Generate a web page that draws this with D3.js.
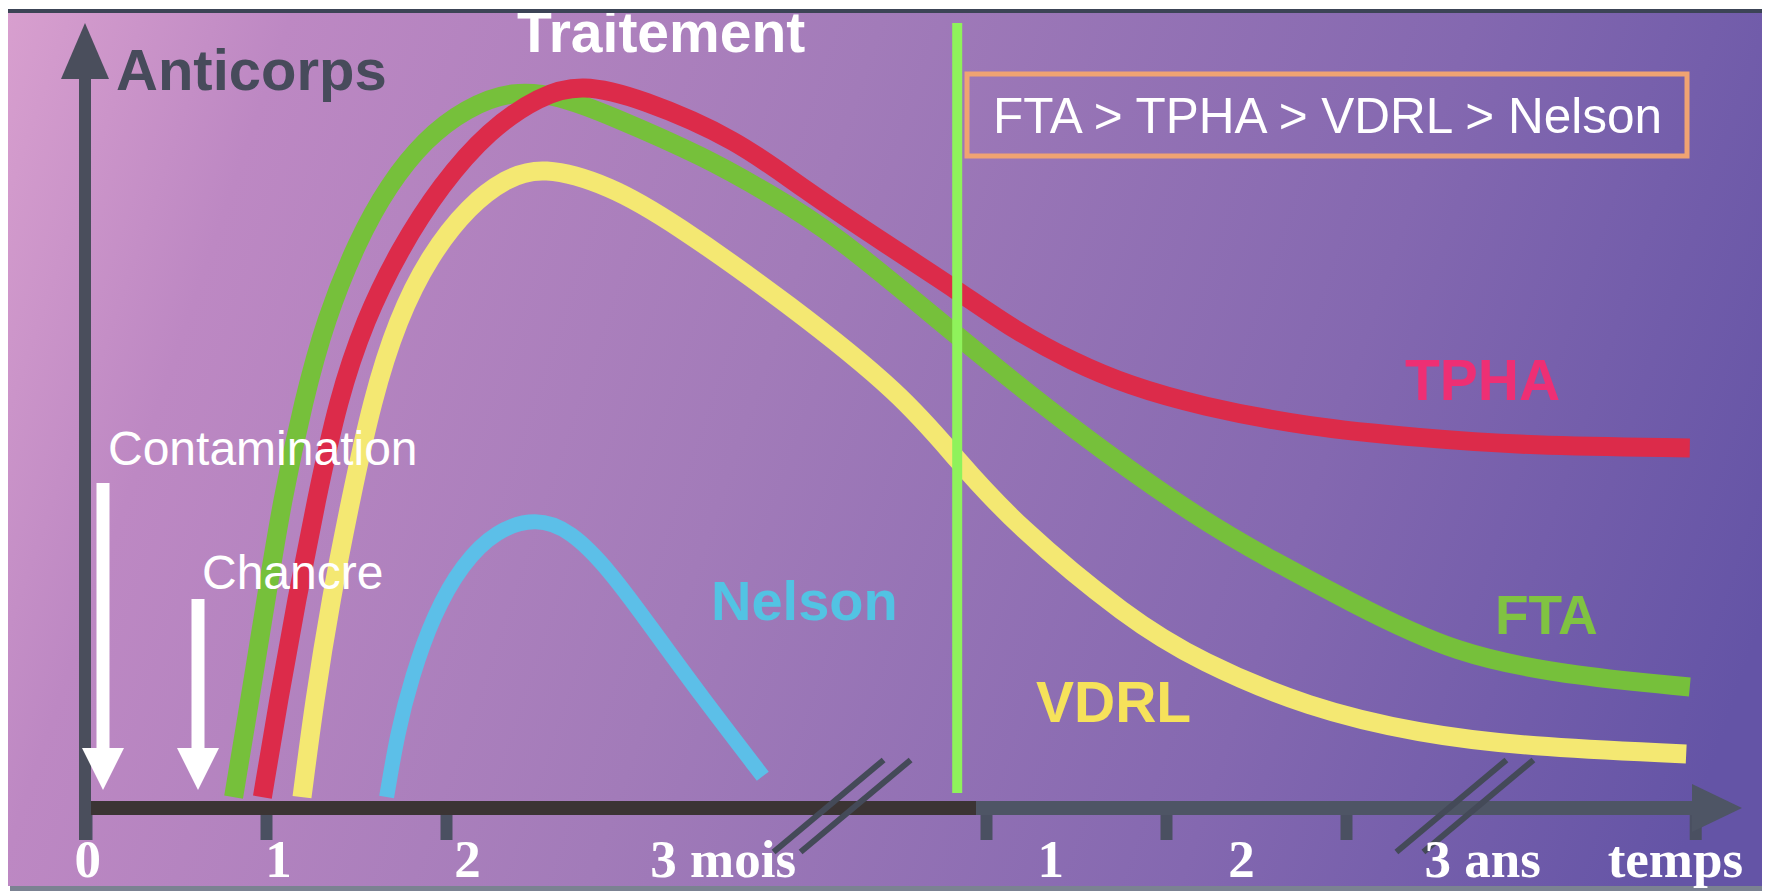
<!DOCTYPE html>
<html>
<head>
<meta charset="utf-8">
<script src="https://cdn.jsdelivr.net/npm/d3@7"></script>
<style>
  html, body { margin: 0; padding: 0; background: #fff; }
  svg { display: block; }
</style>
</head>
<body>
<div id="chart"></div>
<script>
const $ = (element) => d3.select(element);

// time index: 0..3 = months, 5..9 = years (break in between); level 0..100
const fta = [
  [0.82, 0.4], [0.91, 13.9], [1.0, 27.8], [1.09, 41.7], [1.21, 55.6], [1.33, 66.7],
  [1.51, 77.8], [1.68, 85.4], [1.88, 91.7], [2.11, 96.1], [2.37, 98.6], [2.63, 97.8],
  [2.91, 95.1], [3.44, 89.3], [3.79, 84.3], [4.15, 78.9], [4.84, 64.4], [5.48, 51.5],
  [6.19, 38.9], [6.59, 33.3], [7.0, 27.8], [7.61, 20.1], [8.3, 17.1], [8.91, 15.7],
];
const tpha = [
  [0.98, 0.4], [1.07, 13.9], [1.17, 27.8], [1.28, 41.7], [1.4, 55.6], [1.55, 66.7],
  [1.74, 76.4], [1.97, 85.4], [2.24, 93.1], [2.52, 97.8], [2.75, 99.5], [3.08, 97.5],
  [3.62, 91.7], [3.97, 85.1], [4.47, 76.8], [4.84, 70.8], [5.16, 65.2], [5.48, 60.9],
  [5.79, 57.6], [6.19, 54.7], [6.79, 51.8], [7.41, 50.3], [8.01, 49.2], [8.91, 48.9],
];
const vdrl = [
  [1.2, 0.4], [1.27, 13.9], [1.36, 27.8], [1.47, 41.7], [1.59, 55.6], [1.73, 66.7],
  [1.91, 75.7], [2.13, 82.6], [2.33, 86.3], [2.53, 88.1], [2.91, 85.4], [3.26, 80.3],
  [3.91, 68.8], [4.54, 56.2], [4.84, 47.2], [5.16, 38.3], [5.79, 25.2], [6.19, 19.2],
  [6.79, 12.8], [7.41, 9.2], [8.01, 7.4], [8.89, 6.4],
];
const nelson = [
  [1.67, 0.4], [1.73, 9.3], [1.81, 17.1], [1.93, 25.7], [2.09, 32.8], [2.28, 37.5],
  [2.5, 39.2], [2.69, 37.5], [2.91, 31.9], [3.16, 23.3], [3.41, 14.7], [3.76, 3.3],
];
const seriesNames = ["FTA", "TPHA", "VDRL", "Nelson"];
const tickValues = [0, 1, 2, 5, 6, 7, 8.94];
const tickLabels = ["0", "1", "2", "3 mois", "1", "2", "3 ans", "temps"];
const tickLabelAt = [0.01, 1.07, 2.12, 3.54, 5.36, 6.42, 7.76, 8.83];
const treatmentAt = 4.84;
const breaks = [3.82, 7.28];

const width = 1769;
const height = 891;
const sans = "'Liberation Sans', Arial, sans-serif";
const serif = "'Liberation Serif', 'Times New Roman', serif";

const x = d3.scaleLinear().domain([0, 9]).range([86, 1706]);
const y = d3.scaleLinear().domain([0, 100]).range([800, 80]);

const svg = $("#chart")
  .append("svg")
  .attr("width", width)
  .attr("height", height)
  .attr("viewBox", [0, 0, width, height]);

const grad = svg.append("defs").append("linearGradient")
  .attr("id", "bg")
  .attr("gradientUnits", "userSpaceOnUse")
  .attr("x1", 0).attr("y1", 0)
  .attr("x2", 1769).attr("y2", 600);
[[0, "#d9a0cf"], [0.15, "#bd88c3"], [0.45, "#a27bb9"], [0.75, "#8468b0"], [1, "#6454a6"]]
  .forEach(([o, c]) => grad.append("stop").attr("offset", o).attr("stop-color", c));

svg.append("rect").attr("width", width).attr("height", height).attr("fill", "#fff");
svg.append("rect")
  .attr("x", 8).attr("y", 12).attr("width", 1754).attr("height", 874)
  .attr("fill", "url(#bg)");
svg.append("rect")
  .attr("x", 10).attr("y", 886).attr("width", 1752).attr("height", 5)
  .attr("fill", "#7b8292");

// curves
const line = d3.line()
  .x((d) => x(d[0]))
  .y((d) => y(d[1]))
  .curve(d3.curveBasis);

const curves = [
  { data: fta, color: "#76c03b", w: 19 },
  { data: vdrl, color: "#f4e872", w: 19 },
  { data: tpha, color: "#dc2b4a", w: 19 },
  { data: nelson, color: "#5cbfe8", w: 15 },
];
svg.append("g")
  .selectAll("path")
  .data(curves)
  .join("path")
  .attr("d", (d) => line(d.data))
  .attr("fill", "none")
  .attr("stroke", (d) => d.color)
  .attr("stroke-width", (d) => d.w);

// treatment line
svg.append("line")
  .attr("x1", x(treatmentAt)).attr("x2", x(treatmentAt))
  .attr("y1", 23).attr("y2", 793)
  .attr("stroke", "#8ff25b")
  .attr("stroke-width", 10);

// x axis ticks
const axis = svg.append("g")
  .attr("transform", "translate(0,808)")
  .call(d3.axisBottom(x).tickValues(tickValues).tickSize(32).tickFormat(""));
axis.select(".domain").remove();
axis.selectAll(".tick line").attr("stroke", "#4a5061").attr("stroke-width", 12);

// x axis bar: dark for months, slate for years
svg.append("rect")
  .attr("x", 79).attr("y", 801).attr("width", 976 - 79).attr("height", 14)
  .attr("fill", "#3b3434");
svg.append("rect")
  .attr("x", 976).attr("y", 801).attr("width", 1694 - 976).attr("height", 14)
  .attr("fill", "#4e5565");
svg.append("path")
  .attr("d", "M1692,784L1742,808L1692,832Z")
  .attr("fill", "#4e5565");

// y axis
svg.append("rect")
  .attr("x", 79).attr("y", 76).attr("width", 12).attr("height", 840 - 76)
  .attr("fill", "#4a4e5c");
svg.append("path")
  .attr("d", "M85,23L109,79L61,79Z")
  .attr("fill", "#4a4e5c");

// axis breaks
breaks.forEach((b) => {
  [0, 27].forEach((dx) => {
    svg.append("line")
      .attr("x1", x(b) + dx).attr("y1", 852)
      .attr("x2", x(b) + dx + 110).attr("y2", 760)
      .attr("stroke", "#444a58")
      .attr("stroke-width", 6);
  });
});

// tick labels
svg.append("g")
  .selectAll("text")
  .data(tickLabels)
  .join("text")
  .attr("x", (d, i) => x(tickLabelAt[i]))
  .attr("y", 877)
  .attr("text-anchor", "middle")
  .attr("font-family", serif)
  .attr("font-weight", "bold")
  .attr("font-size", 53)
  .attr("fill", "#fff")
  .text((d) => d);

// event arrows
const arrow = (cx, top) => {
  svg.append("rect")
    .attr("x", cx - 6.5).attr("y", top).attr("width", 13).attr("height", 750 - top)
    .attr("fill", "#fff");
  svg.append("path")
    .attr("d", `M${cx - 21},748L${cx + 21},748L${cx},790Z`)
    .attr("fill", "#fff");
};
arrow(103, 483);
arrow(198, 599);

const text = (str, px, py, size, color, bold, font = sans) =>
  svg.append("text")
    .attr("x", px).attr("y", py)
    .attr("font-family", font)
    .attr("font-size", size)
    .attr("font-weight", bold ? "bold" : "normal")
    .attr("fill", color)
    .text(str);

text("Contamination", 108, 465, 48, "#fff", false);
text("Chancre", 202, 589, 48, "#fff", false);
text("Anticorps", 116, 90, 58, "#474b5b", true);
text("Traitement", 517, 52, 57, "#fff", true);

// series labels
text(seriesNames[1], 1405, 400, 57, "#ee2f74", true);
text(seriesNames[0], 1495, 634, 55, "#80c341", true);
text(seriesNames[2], 1036, 722, 57, "#f6e25a", true);
text(seriesNames[3], 711, 620, 56, "#52c3e3", true);

// ordering box
svg.append("rect")
  .attr("x", 967).attr("y", 74).attr("width", 720).attr("height", 82)
  .attr("fill", "none")
  .attr("stroke", "#f0a372")
  .attr("stroke-width", 5);
text(`${seriesNames[0]} > ${seriesNames[1]} > ${seriesNames[2]} > ${seriesNames[3]}`,
  993, 133, 49.5, "#fff", false);

// top border
svg.append("rect")
  .attr("x", 8).attr("y", 9).attr("width", 1754).attr("height", 4)
  .attr("fill", "#3c4456");
</script>
</body>
</html>
